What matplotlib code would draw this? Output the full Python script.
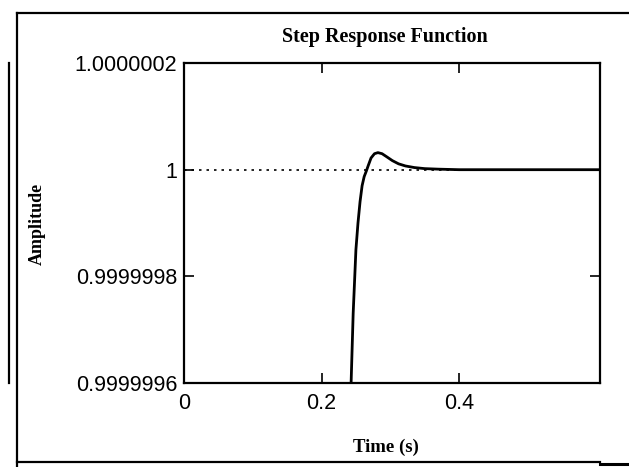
#!/usr/bin/env python3
"""Step response plot, Mathcad-style frame."""

import matplotlib

matplotlib.use("Agg")
import matplotlib.pyplot as plt
from matplotlib.lines import Line2D

# step response (time in s, amplitude)
time_s = [0.238, 0.243, 0.246, 0.250, 0.253, 0.256, 0.259, 0.262, 0.265,
          0.268, 0.272, 0.277, 0.282, 0.288, 0.295, 0.303, 0.312, 0.322,
          0.335, 0.350, 0.370, 0.400, 0.450, 0.500, 0.550, 0.605]
amplitude = [0.99999955, 0.9999996, 0.99999973, 0.99999985, 0.99999990,
             0.99999994, 0.99999997, 0.999999987, 0.999999997,
             1.000000008, 1.000000022, 1.000000030, 1.000000032,
             1.000000030, 1.000000024, 1.000000017, 1.000000011,
             1.000000007, 1.000000004, 1.000000002, 1.000000001,
             1.0, 1.0, 1.0, 1.0, 1.0]

x_ticks = [0, 0.2, 0.4]
x_tick_labels = ["0", "0.2", "0.4"]
y_ticks = [0.9999996, 0.9999998, 1.0, 1.0000002]
y_tick_labels = ["0.9999996", "0.9999998", "1", "1.0000002"]

serif = ["Liberation Serif", "DejaVu Serif"]
sans = ["Liberation Sans", "DejaVu Sans"]

W, H = 629, 467
fig = plt.figure(figsize=(6.29, 4.67), dpi=100)
ax = fig.add_axes([0.2925, 0.1799, 0.6615, 0.6851])

ax.axhline(1.0, color="black", linestyle=(0, (1.5, 3)), linewidth=1.2, zorder=2)
ax.plot(time_s, amplitude, color="black", linewidth=2.0, zorder=3)

ax.set_xlim(0, 0.605)
ax.set_ylim(0.9999996, 1.0000002)
ax.set_xticks(x_ticks)
ax.set_xticklabels(x_tick_labels, fontfamily=sans, fontsize=15.5)
ax.set_yticks(y_ticks)
ax.set_yticklabels(y_tick_labels, fontfamily=sans, fontsize=15.5)
ax.tick_params(direction="in", length=7, width=1.2, top=True, right=True,
               color="black")
ax.tick_params(axis="x", pad=7)
ax.tick_params(axis="y", pad=5)
for sp in ax.spines.values():
    sp.set_linewidth(1.6)

fig.text(385 / W, 1 - 37 / H, "Step Response Function", ha="center",
         va="center", fontfamily=serif, fontsize=14.5, fontweight="bold")
fig.text(386 / W, 1 - 447 / H, "Time (s)", ha="center", va="center",
         fontfamily=serif, fontsize=13.5, fontweight="bold")
fig.text(37 / W, 1 - 224 / H, "Amplitude", rotation=90, ha="center",
         va="center", fontfamily=serif, fontsize=13, fontweight="bold")

# scanned page frame


def fline(x0, y0, x1, y1, lw):
    fig.add_artist(Line2D([x0 / W, x1 / W], [1 - y0 / H, 1 - y1 / H],
                          color="black", linewidth=lw,
                          transform=fig.transFigure))


fline(17, 13, 629, 13, 1.6)
fline(17, 13, 17, 467, 1.6)
fline(9, 63, 9, 383, 1.6)
fline(17, 462, 600, 462, 1.6)
fline(600, 464, 629, 464, 2.2)

fig.savefig("out.png", dpi=100)
